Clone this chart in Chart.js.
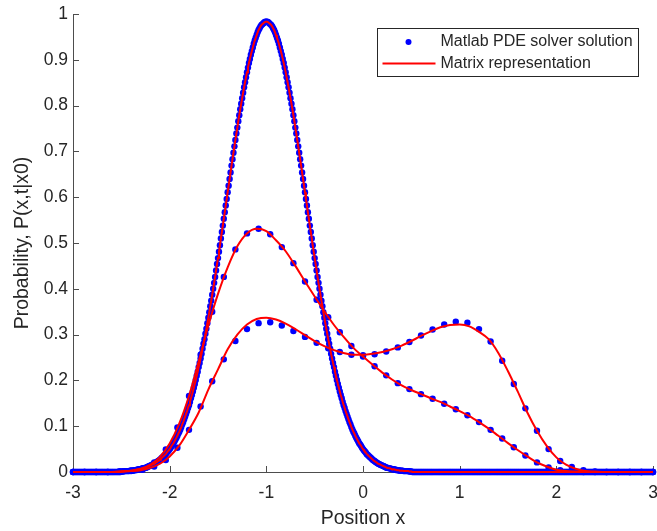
<!DOCTYPE html>
<html>
<head>
<meta charset="utf-8">
<script src="https://cdn.jsdelivr.net/npm/chart.js@4.4.1/dist/chart.umd.min.js"></script>
<style>
  html, body { margin: 0; padding: 0; background: #fff; }
  #wrap { width: 657px; height: 531px; }
</style>
</head>
<body>
<div id="wrap"><canvas id="chart" width="657" height="531"></canvas></div>
<script>
// Fokker-Planck snapshots started at x0 = -1, PDE solver vs matrix method
const xTickLabels = ['-3', '-2', '-1', '0', '1', '2', '3'];
const yTickLabels = ['0', '0.1', '0.2', '0.3', '0.4', '0.5', '0.6', '0.7', '0.8', '0.9', '1'];

// earliest snapshot, fine mesh from -3 to 3 in steps of 0.01
const fineStart = -3;
const fineStep = 0.01;
const pdeEarly = [
  0,0,0,0,0,0,0,0,0,0,0,0,0,0,0,0,0,0,0,0,0,0,0,0,0,
  0,0,0,0,0,0,0,0,0,0,0,0,0,0,0,0,0,0,0,0,0,0,0,0,0,
  .001,.001,.001,.002,.002,.002,.002,.002,.002,.003,
  .003,.003,.003,.004,.004,.004,.005,.005,.006,.006,
  .006,.007,.008,.008,.009,.009,.010,.011,.012,.013,
  .014,.015,.016,.017,.018,.019,.021,.022,.024,.025,
  .027,.029,.031,.033,.035,.037,.039,.042,.045,.047,
  .050,.053,.057,.060,.063,.067,.071,.075,.079,.084,
  .088,.093,.098,.104,.109,.115,.121,.127,.133,.140,
  .146,.153,.161,.168,.176,.184,.192,.201,.210,.219,
  .229,.238,.248,.258,.269,.280,.290,.302,.313,.325,
  .337,.349,.362,.374,.387,.400,.413,.426,.440,.454,
  .467,.481,.495,.510,.524,.538,.553,.567,.582,.596,
  .611,.625,.640,.654,.669,.683,.697,.711,.725,.739,
  .752,.766,.779,.792,.804,.816,.828,.840,.851,.862,
  .873,.883,.893,.902,.911,.919,.927,.935,.942,.948,
  .954,.960,.965,.969,.973,.976,.978,.980,.982,.983,
  .983,
  .983,.982,.980,.978,.976,.973,.969,.965,.960,.954,
  .948,.942,.935,.927,.919,.911,.902,.893,.883,.873,
  .862,.851,.840,.828,.816,.804,.792,.779,.766,.752,
  .739,.725,.711,.697,.683,.669,.654,.640,.625,.611,
  .596,.582,.567,.553,.538,.524,.510,.495,.481,.467,
  .454,.440,.426,.413,.400,.387,.374,.362,.349,.337,
  .325,.313,.302,.290,.280,.269,.258,.248,.238,.229,
  .219,.210,.201,.192,.184,.176,.168,.161,.153,.146,
  .140,.133,.127,.121,.115,.109,.104,.098,.093,.088,
  .084,.079,.075,.071,.067,.063,.060,.057,.053,.050,
  .047,.045,.042,.039,.037,.035,.033,.031,.029,.027,
  .025,.024,.022,.021,.019,.018,.017,.016,.015,.014,
  .013,.012,.011,.010,.009,.009,.008,.008,.007,.006,
  .006,.006,.005,.005,.004,.004,.004,.003,.003,.003,
  .003,.002,.002,.002,.002,.002,.002,.001,.001,.001,
  0,0,0,0,0,0,0,0,0,0,0,0,0,0,0,0,0,0,0,0,0,0,0,0,0,
  0,0,0,0,0,0,0,0,0,0,0,0,0,0,0,0,0,0,0,0,0,0,0,0,0,
  0,0,0,0,0,0,0,0,0,0,0,0,0,0,0,0,0,0,0,0,0,0,0,0,0,
  0,0,0,0,0,0,0,0,0,0,0,0,0,0,0,0,0,0,0,0,0,0,0,0,0,
  0,0,0,0,0,0,0,0,0,0,0,0,0,0,0,0,0,0,0,0,0,0,0,0,0,
  0,0,0,0,0,0,0,0,0,0,0,0,0,0,0,0,0,0,0,0,0,0,0,0,0,
  0,0,0,0,0,0,0,0,0,0,0,0,0,0,0,0,0,0,0,0,0,0,0,0,0,
  0,0,0,0,0,0,0,0,0,0,0,0,0,0,0,0,0,0,0,0,0,0,0,0,0,
  0,0,0,0,0,0,0,0,0,0,0,0,0,0,0,0,0,0,0,0,0,0,0,0,0,
  0,0,0,0,0,0,0,0,0,0,0,0,0,0,0,0,0,0,0,0,0,0,0,0,0
];
// matrix method agrees with the solver on the first snapshot
const matrixEarly = pdeEarly;

// later snapshots from the solver, coarse mesh (step 0.12)
const coarseX = [
  -3, -2.88, -2.76, -2.64, -2.52, -2.4, -2.28, -2.16, -2.04, -1.92, -1.8, -1.68, -1.56,
  -1.44, -1.32, -1.2, -1.08, -0.96, -0.84, -0.72, -0.6, -0.48, -0.36, -0.24, -0.12,
  0, 0.12, 0.24, 0.36, 0.48, 0.6, 0.72, 0.84, 0.96, 1.08, 1.2, 1.32, 1.44, 1.56,
  1.68, 1.8, 1.92, 2.04, 2.16, 2.28, 2.4, 2.52, 2.64, 2.76, 2.88, 3
];
const pdeMid = [
  0, 0, 0, 0, .001, .003, .008, .021, .049, .097, .166, .256, .350,
  .426, .486, .521, .531, .519, .491, .456, .416, .376, .338, .305, .275,
  .252, .231, .211, .194, .181, .170, .160, .149, .137, .124, .109, .092, .073, .054,
  .036, .021, .010, .004, .001, 0, 0, 0, 0, 0, 0, 0
];
const pdeLate = [
  0, 0, 0, 0, .001, .002, .005, .012, .026, .053, .092, .143, .198,
  .246, .286, .312, .325, .327, .320, .308, .295, .282, .270, .262, .256,
  .255, .257, .263, .272, .284, .298, .311, .322, .328, .326, .312, .285, .243, .192,
  .139, .090, .050, .024, .011, .004, .001, 0, 0, 0, 0, 0
];

// matrix representation, sampled every 0.1
const matrixX = [
  -3, -2.9, -2.8, -2.7, -2.6, -2.5, -2.4, -2.3, -2.2, -2.1, -2, -1.9, -1.8, -1.7, -1.6,
  -1.5, -1.4, -1.3, -1.2, -1.1, -1, -0.9, -0.8, -0.7, -0.6, -0.5, -0.4, -0.3, -0.2, -0.1,
  0, 0.1, 0.2, 0.3, 0.4, 0.5, 0.6, 0.7, 0.8, 0.9, 1, 1.1, 1.2, 1.3, 1.4, 1.5,
  1.6, 1.7, 1.8, 1.9, 2, 2.1, 2.2, 2.3, 2.4, 2.5, 2.6, 2.7, 2.8, 2.9, 3
];
const matrixMid = [
  0, 0, 0, 0, 0, .001, .003, .007, .016, .033, .062, .106, .166, .241, .320,
  .389, .447, .493, .521, .531, .526, .506, .482, .450, .416, .383, .351, .321, .295, .271,
  .252, .234, .217, .202, .189, .179, .170, .161, .153, .143, .133, .122, .109, .095, .079, .063,
  .048, .034, .021, .012, .005, .002, .001, 0, 0, 0, 0, 0, 0, 0, 0
];
const matrixLate = [
  0, 0, 0, 0, 0, .001, .002, .004, .009, .018, .034, .058, .092, .130, .180,
  .224, .268, .300, .322, .334, .337, .333, .324, .312, .299, .286, .275, .266, .260, .256,
  .256, .258, .262, .268, .276, .286, .297, .307, .316, .321, .322, .318, .306, .290, .260, .220,
  .176, .130, .090, .057, .032, .016, .007, .002, .001, 0, 0, 0, 0, 0, 0
];

const FONT = "'Liberation Sans', Arial, Helvetica, sans-serif";
const TEXT = '#262626';
const AXIS = '#4d4d4d';
const DOT = '#0000ff';
const LINE = '#ff0000';

const fineX = pdeEarly.map((_, i) => +(fineStart + i * fineStep).toFixed(2));
const pts = (xs, ys) => ys.map((y, i) => ({ x: xs[i], y }));

const dotSet = (label, data) => ({
  label, data, order: 2, clip: false,
  showLine: false, pointRadius: 3.2, pointStyle: 'circle',
  pointBackgroundColor: DOT, pointBorderWidth: 0
});
const lineSet = (label, data, smooth) => ({
  label, data, order: 1, clip: false,
  showLine: true, pointRadius: 0, borderColor: LINE, borderWidth: 2,
  cubicInterpolationMode: smooth ? 'monotone' : 'default', tension: 0
});

// Matlab-style tick marks pointing into the axes
const innerTicks = {
  id: 'innerTicks',
  beforeDatasetsDraw(chart) {
    const { ctx, chartArea: a, scales: { x, y } } = chart;
    ctx.save();
    ctx.strokeStyle = AXIS;
    ctx.lineWidth = 1;
    ctx.beginPath();
    x.ticks.forEach(t => {
      const px = Math.round(x.getPixelForValue(t.value)) + 0.5;
      ctx.moveTo(px, a.bottom);
      ctx.lineTo(px, a.bottom - 6);
    });
    y.ticks.forEach(t => {
      const py = Math.round(y.getPixelForValue(t.value)) + 0.5;
      ctx.moveTo(a.left, py);
      ctx.lineTo(a.left + 6, py);
    });
    ctx.stroke();
    ctx.restore();
  }
};

// boxed legend in the upper right corner
const legendBox = {
  id: 'legendBox',
  afterDraw(chart) {
    const { ctx, chartArea: a, data } = chart;
    const w = 261, h = 48;
    const left = Math.round(a.right - 15 - w) + 0.5;
    const top = Math.round(a.top + 14) + 0.5;
    ctx.save();
    ctx.fillStyle = '#fff';
    ctx.fillRect(left, top, w, h);
    ctx.strokeStyle = TEXT;
    ctx.lineWidth = 1;
    ctx.strokeRect(left, top, w, h);

    const row1 = top + 13.5, row2 = top + 35;
    ctx.fillStyle = DOT;
    ctx.beginPath();
    ctx.arc(left + 31, row1, 3, 0, Math.PI * 2);
    ctx.fill();

    ctx.strokeStyle = LINE;
    ctx.lineWidth = 2;
    ctx.beginPath();
    ctx.moveTo(left + 5, row2);
    ctx.lineTo(left + 58, row2);
    ctx.stroke();

    ctx.fillStyle = TEXT;
    ctx.font = '16px ' + FONT;
    ctx.textBaseline = 'middle';
    ctx.textAlign = 'left';
    ctx.fillText(data.datasets[0].label, left + 63, row1);
    ctx.fillText(data.datasets[3].label, left + 63, row2);
    ctx.restore();
  }
};

new Chart(document.getElementById('chart'), {
  type: 'line',
  data: {
    datasets: [
      dotSet('Matlab PDE solver solution', pts(fineX, pdeEarly)),
      dotSet('Matlab PDE solver solution', pts(coarseX, pdeMid)),
      dotSet('Matlab PDE solver solution', pts(coarseX, pdeLate)),
      lineSet('Matrix representation', pts(fineX, matrixEarly), false),
      lineSet('Matrix representation', pts(matrixX, matrixMid), true),
      lineSet('Matrix representation', pts(matrixX, matrixLate), true)
    ]
  },
  options: {
    responsive: false,
    animation: false,
    events: [],
    devicePixelRatio: 1,
    layout: { padding: { top: 14, right: 2, left: 0, bottom: 0 } },
    plugins: { legend: { display: false }, tooltip: { enabled: false } },
    scales: {
      x: {
        type: 'linear', min: -3, max: 3,
        ticks: {
          stepSize: 1, maxRotation: 0, autoSkip: false, padding: 11,
          color: TEXT, font: { family: FONT, size: 17.5 },
          callback: (v, i) => xTickLabels[i]
        },
        grid: { drawOnChartArea: false, drawTicks: false },
        border: { display: true, color: AXIS, width: 1 },
        title: {
          display: true, text: 'Position x', color: TEXT,
          font: { family: FONT, size: 19.5 }, padding: { top: 0, bottom: 1 }
        },
        afterFit: s => { s.height = 59; s.paddingLeft = 0; s.paddingRight = 0; }
      },
      y: {
        type: 'linear', min: 0, max: 1,
        ticks: {
          stepSize: 0.1, autoSkip: false, padding: 5,
          color: TEXT, font: { family: FONT, size: 17.5 },
          callback: (v, i) => yTickLabels[i]
        },
        grid: { drawOnChartArea: false, drawTicks: false },
        border: { display: true, color: AXIS, width: 1 },
        title: {
          display: true, text: 'Probability, P(x,t|x0)', color: TEXT,
          font: { family: FONT, size: 19.5 }, padding: { top: 11, bottom: 0 }
        },
        afterFit: s => { s.width = 73; s.paddingTop = 0; s.paddingBottom = 0; }
      }
    }
  },
  plugins: [innerTicks, legendBox]
});
</script>
</body>
</html>
